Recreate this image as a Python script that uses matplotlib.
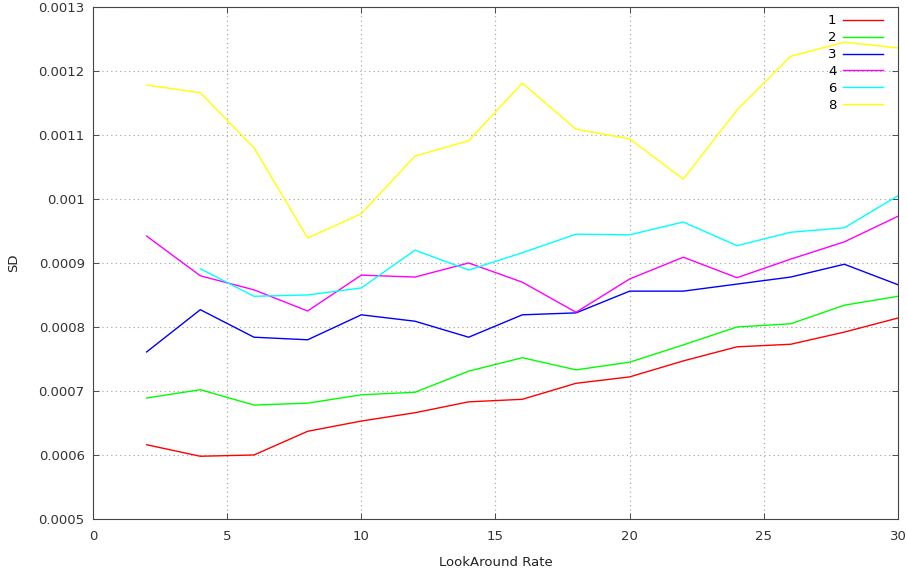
import matplotlib
matplotlib.use("Agg")
import matplotlib.pyplot as plt

# look-around rates and SD per run
rates = [2, 4, 6, 8, 10, 12, 14, 16, 18, 20, 22, 24, 26, 28, 30]
rates_6 = rates[1:]

sd_1 = [0.000616, 0.000598, 0.000600, 0.000637, 0.000653, 0.000666, 0.000683, 0.000687,
        0.000712, 0.000722, 0.000747, 0.000769, 0.000773, 0.000792, 0.000814]
sd_2 = [0.000689, 0.000702, 0.000678, 0.000681, 0.000694, 0.000698, 0.000731, 0.000752,
        0.000733, 0.000745, 0.000772, 0.000800, 0.000805, 0.000834, 0.000848]
sd_3 = [0.000761, 0.000827, 0.000784, 0.000780, 0.000819, 0.000809, 0.000784, 0.000819,
        0.000822, 0.000856, 0.000856, 0.000867, 0.000878, 0.000898, 0.000866]
sd_4 = [0.000942, 0.000880, 0.000858, 0.000825, 0.000881, 0.000878, 0.000900, 0.000870,
        0.000823, 0.000875, 0.000909, 0.000877, 0.000906, 0.000933, 0.000973]
sd_6 = [0.000891, 0.000848, 0.000850, 0.000861, 0.000920, 0.000889, 0.000916,
        0.000945, 0.000944, 0.000964, 0.000927, 0.000948, 0.000955, 0.001005]
sd_8 = [0.001178, 0.001166, 0.001080, 0.000939, 0.000977, 0.001067, 0.001091, 0.001181,
        0.001109, 0.001094, 0.001031, 0.001139, 0.001223, 0.001245, 0.001236]

series = [
    ("1", rates, sd_1, "#ff0000"),
    ("2", rates, sd_2, "#00ff00"),
    ("3", rates, sd_3, "#0000ff"),
    ("4", rates, sd_4, "#ff00ff"),
    ("6", rates_6, sd_6, "#00ffff"),
    ("8", rates, sd_8, "#ffff00"),
]

yticks = [0.0005, 0.0006, 0.0007, 0.0008, 0.0009, 0.001, 0.0011, 0.0012, 0.0013]
ytick_labels = ["0.0005", "0.0006", "0.0007", "0.0008", "0.0009", "0.001",
                "0.0011", "0.0012", "0.0013"]
xticks = [0, 5, 10, 15, 20, 25, 30]

fig = plt.figure(figsize=(9.08, 5.72), dpi=100)
ax = fig.add_axes([0.1024, 0.0927, 0.8866, 0.8951])

for name, xs, ys, col in series:
    ax.plot(xs, ys, color=col, lw=1.0, label=name)

ax.set_xlim(0, 30)
ax.set_ylim(0.0005, 0.0013)
ax.set_xticks(xticks)
ax.set_yticks(yticks)
ax.set_yticklabels(ytick_labels)
ax.tick_params(direction="in", length=4, width=0.6, top=True, right=True,
               labelsize=9.5, colors="#333333", pad=6)
ax.tick_params(axis="x", pad=8)
for s in ax.spines.values():
    s.set_color("#444444")
    s.set_linewidth(0.8)
ax.grid(True, color="#a0a0a0", ls=(0, (1, 3)), lw=0.8)

ax.set_xlabel("LookAround Rate", fontsize=9.5, color="#222222", labelpad=9)
ax.set_ylabel("SD", fontsize=9.5, color="#222222", labelpad=13)

leg = ax.legend(loc="upper right", frameon=False, markerfirst=False, fontsize=9.5,
                handlelength=3.0, labelspacing=0.3, borderaxespad=0.25,
                handletextpad=0.5, borderpad=0.3)
# nudge the key a bit left of the right border
leg.set_bbox_to_anchor((0.99, 1.0))

fig.savefig("out.png", dpi=100)
